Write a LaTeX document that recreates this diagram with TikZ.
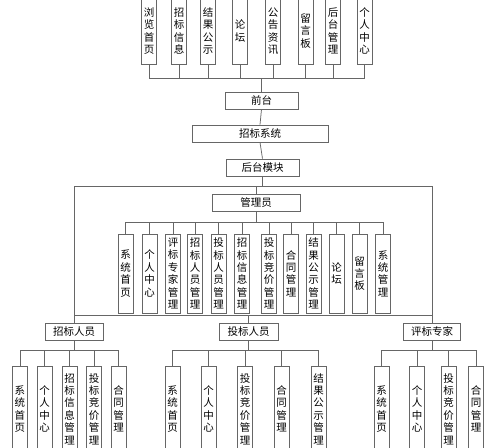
\documentclass[tikz,border=0pt]{standalone}
\usepackage{fontspec}
\newfontfamily\cjk{Noto Sans CJK SC}
\usepackage{tikz}

\begin{document}
\begin{tikzpicture}[x=1pt,y=-1pt,
        line width=0.75pt, draw=black!60,
        hbox/.style = {draw=black!60, inner sep=0pt,
        minimum height=17pt,
        font=\cjk\fontsize{10.5}{12.4}\selectfont},
        vbox/.style = {draw=black!60, inner sep=0pt,
        minimum width=15pt, align=center,
        font=\cjk\fontsize{10.5}{12.4}\selectfont}]

        % Picture frame
        \clip (0,0) rectangle (499,448);

        % Front pages
        \node [vbox,minimum height=66pt] (t1) at (149,31) {浏\\览\\首\\页};
        \node [vbox,minimum height=66pt] (t2) at (179,31) {招\\标\\信\\息};
        \node [vbox,minimum height=66pt] (t3) at (208,31) {结\\果\\公\\示};
        \node [vbox,minimum height=66pt] (t4) at (240,31) {论\\坛};
        \node [vbox,minimum height=66pt] (t5) at (273,31) {公\\告\\资\\讯};
        \node [vbox,minimum height=66pt] (t6) at (305.5,31) {留\\言\\板};
        \node [vbox,minimum height=66pt] (t7) at (333,31) {后\\台\\管\\理};
        \node [vbox,minimum height=66pt] (t8) at (364.5,31) {个\\人\\中\\心};

        % Main chain
        \node [hbox,minimum width=73pt] (qt) at (261.5,100.5) {前台};
        \node [hbox,minimum width=136pt] (xt) at (260,133.5) {招标系统};
        \node [hbox,minimum width=73pt] (ht) at (262.5,167.5) {后台模块};

        % Administrator
        \node [hbox,minimum width=88pt] (gly) at (256,202.5) {管理员};
        \node [vbox,minimum height=79pt] (a1) at (125.5,273.5) {系\\统\\首\\页};
        \node [vbox,minimum height=79pt] (a2) at (149.5,273.5) {个\\人\\中\\心};
        \node [vbox,minimum height=79pt] (a3) at (173,273.5) {评\\标\\专\\家\\管\\理};
        \node [vbox,minimum height=79pt] (a4) at (195,273.5) {招\\标\\人\\员\\管\\理};
        \node [vbox,minimum height=79pt] (a5) at (218.5,273.5) {投\\标\\人\\员\\管\\理};
        \node [vbox,minimum height=79pt] (a6) at (242,273.5) {招\\标\\信\\息\\管\\理};
        \node [vbox,minimum height=79pt] (a7) at (269,273.5) {投\\标\\竞\\价\\管\\理};
        \node [vbox,minimum height=79pt] (a8) at (291,273.5) {合\\同\\管\\理};
        \node [vbox,minimum height=79pt] (a9) at (313.5,273.5) {结\\果\\公\\示\\管\\理};
        \node [vbox,minimum height=79pt] (a10) at (336.5,273.5) {论\\坛};
        \node [vbox,minimum height=79pt] (a11) at (359.5,273.5) {留\\言\\板};
        \node [vbox,minimum height=79pt] (a12) at (383,273.5) {系\\统\\管\\理};

        % User roles
        \node [hbox,minimum width=58pt] (zb) at (74,331.5) {招标人员};
        \node [hbox,minimum width=59pt] (tb) at (248.5,331.5) {投标人员};
        \node [hbox,minimum width=57pt] (pb) at (432,331.5) {评标专家};

        % Tenderer pages
        \node [vbox,minimum height=86pt] (z1) at (20,409) {系\\统\\首\\页};
        \node [vbox,minimum height=86pt] (z2) at (44.5,409) {个\\人\\中\\心};
        \node [vbox,minimum height=86pt] (z3) at (69.5,409) {招\\标\\信\\息\\管\\理};
        \node [vbox,minimum height=86pt] (z4) at (94,409) {投\\标\\竞\\价\\管\\理};
        \node [vbox,minimum height=86pt] (z5) at (118.5,409) {合\\同\\管\\理};

        % Bidder pages
        \node [vbox,minimum height=86pt] (b1) at (172.5,409) {系\\统\\首\\页};
        \node [vbox,minimum height=86pt] (b2) at (208.5,409) {个\\人\\中\\心};
        \node [vbox,minimum height=86pt] (b3) at (245,409) {投\\标\\竞\\价\\管\\理};
        \node [vbox,minimum height=86pt] (b4) at (281.5,409) {合\\同\\管\\理};
        \node [vbox,minimum height=86pt] (b5) at (318.5,409) {结\\果\\公\\示\\管\\理};

        % Expert pages
        \node [vbox,minimum height=86pt] (p1) at (381.5,409) {系\\统\\首\\页};
        \node [vbox,minimum height=86pt] (p2) at (417,409) {个\\人\\中\\心};
        \node [vbox,minimum height=86pt] (p3) at (448.5,409) {投\\标\\竞\\价\\管\\理};
        \node [vbox,minimum height=86pt] (p4) at (476,409) {合\\同\\管\\理};

        % Front links
        \draw (qt.north) -- ++(0,-13) coordinate (qj);
        \draw (qj) -| (t1.south);
        \draw (qj) -| (t2.south);
        \draw (qj) -| (t3.south);
        \draw (qj) -| (t4.south);
        \draw (qj) -| (t5.south);
        \draw (qj) -| (t6.south);
        \draw (qj) -| (t7.south);
        \draw (qj) -| (t8.south);

        % Chain links
        \draw (qt.south) -- (xt.north);
        \draw (xt.south) -- (ht.north);

        % Back links
        \draw (ht.south) -- ++(0,10) coordinate (hj);
        \draw (hj) -| (zb.north);
        \draw (hj) -| (pb.north);
        \draw (hj) -| (gly.north);
        \draw (zb.north) ++(0,-7) coordinate (rj) -- (rj -| pb.north);
        \draw (rj) -| (tb.north);

        % Administrator links
        \draw (gly.south) -- ++(0,11) coordinate (gj);
        \draw (gj) -| (a1.north);
        \draw (gj) -| (a2.north);
        \draw (gj) -| (a3.north);
        \draw (gj) -| (a4.north);
        \draw (gj) -| (a5.north);
        \draw (gj) -| (a6.north);
        \draw (gj) -| (a7.north);
        \draw (gj) -| (a8.north);
        \draw (gj) -| (a9.north);
        \draw (gj) -| (a10.north);
        \draw (gj) -| (a11.north);
        \draw (gj) -| (a12.north);

        % Tenderer links
        \draw (zb.south) -- ++(0,10) coordinate (zj);
        \draw (zj) -| (z1.north);
        \draw (zj) -| (z2.north);
        \draw (zj) -| (z3.north);
        \draw (zj) -| (z4.north);
        \draw (zj) -| (z5.north);

        % Bidder links
        \draw (tb.south) -- ++(0,10) coordinate (bj);
        \draw (bj) -| (b1.north);
        \draw (bj) -| (b2.north);
        \draw (bj) -| (b3.north);
        \draw (bj) -| (b4.north);
        \draw (bj) -| (b5.north);

        % Expert links
        \draw (pb.south) -- ++(0,10) coordinate (pj);
        \draw (pj) -| (p1.north);
        \draw (pj) -| (p2.north);
        \draw (pj) -| (p3.north);
        \draw (pj) -| (p4.north);

    \end{tikzpicture}
\end{document}
